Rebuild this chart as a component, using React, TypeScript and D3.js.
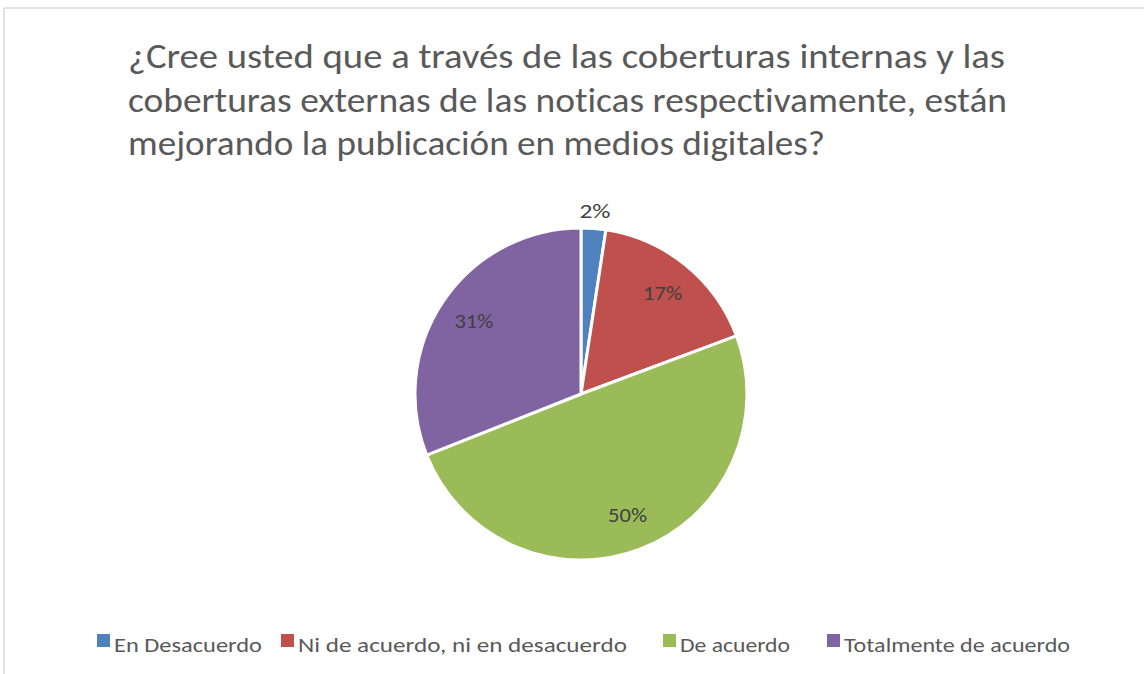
import React from "react";
import * as d3 from "d3";

const categories = ["En Desacuerdo", "Ni de acuerdo, ni en desacuerdo", "De acuerdo", "Totalmente de acuerdo"];
const values = [2.4, 16.9, 49.7, 31.0];
const labels = ["2%", "17%", "50%", "31%"];
const colors = ["#4F81BD", "#C0504D", "#9BBB59", "#8064A2"];
const titleLines = [
  "¿Cree usted que a través de las coberturas internas y las",
  "coberturas externas de las noticas respectivamente, están",
  "mejorando la publicación en medios digitales?",
];
const titleWidths = [877, 879, 697];
const legendX = [97, 281, 663, 827];
const legendTextW = [148, 329, 110, 226];
const labelWidths = [31, 39, 39, 39];

const W = 1144, H = 674;
const FONT = "Carlito, Calibri, Lato, 'Open Sans', sans-serif";

export default function App() {
  const cx = 581, cy = 394, r = 166;
  const pie = d3.pie<number>().sort(null).value((d) => d);
  const arcs = pie(values);
  const arcGen = d3.arc<d3.PieArcDatum<number>>().innerRadius(0).outerRadius(r);
  const labelArc = d3.arc<d3.PieArcDatum<number>>().innerRadius(r * 0.78).outerRadius(r * 0.78);
  const outArc = d3.arc<d3.PieArcDatum<number>>().innerRadius(r + 18).outerRadius(r + 18);

  return (
    <svg width={W} height={H} style={{ position: "absolute", left: 0, top: 0, fontVariantLigatures: "none" }} fontFamily={FONT}>
      <rect x={0} y={0} width={W} height={H} fill="#fff" />
      <line x1={4} y1={8} x2={W} y2={8} stroke="#d9d9d9" strokeWidth={1.5} />
      <line x1={4} y1={8} x2={4} y2={H} stroke="#d9d9d9" strokeWidth={1.5} />
      {titleLines.map((t, i) => (
        <text key={i} x={128} y={68 + i * 43.5} fontSize={34} fill="#595959"
          textLength={titleWidths[i]} lengthAdjust="spacingAndGlyphs">{t}</text>
      ))}
      <g transform={`translate(${cx},${cy})`}>
        {arcs.map((a, i) => (
          <path key={i} d={arcGen(a) || ""} fill={colors[i]} stroke="#fff" strokeWidth={3} strokeLinejoin="round" />
        ))}
        {arcs.map((a, i) => {
          const p = i === 0 ? outArc.centroid(a) : labelArc.centroid(a);
          return (
            <text key={"l" + i} x={p[0]} y={p[1]} textAnchor="middle" dominantBaseline="central"
              fontSize={21} fill="#404040" textLength={labelWidths[i]} lengthAdjust="spacingAndGlyphs">{labels[i]}</text>
          );
        })}
      </g>
      {categories.map((c, i) => (
        <g key={"lg" + i}>
          <rect x={legendX[i]} y={634} width={13} height={13} fill={colors[i]} />
          <text x={legendX[i] + 17} y={652} fontSize={20} fill="#595959"
            textLength={legendTextW[i]} lengthAdjust="spacingAndGlyphs">{c}</text>
        </g>
      ))}
    </svg>
  );
}
